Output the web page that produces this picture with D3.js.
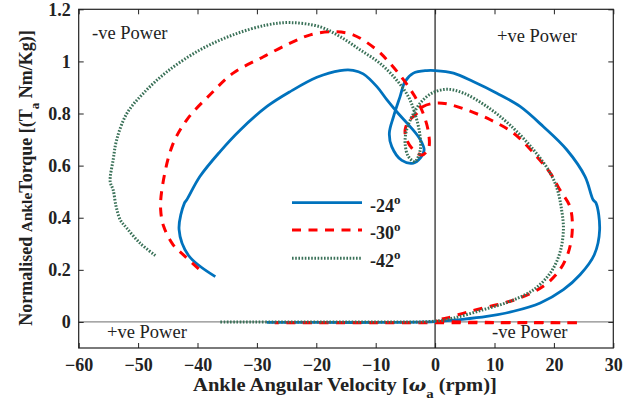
<!DOCTYPE html>
<html>
<head>
<meta charset="utf-8">
<script src="https://cdn.jsdelivr.net/npm/d3@7"></script>
<style>
  body { margin: 0; background: #fff; }
  text { font-family: "Liberation Serif", "Times New Roman", serif; }
</style>
</head>
<body>
<div id="chart"></div>
<script>

// angular velocity (rpm) and normalised torque
var vel24 = [-37.0, -41.5, -43.1, -42.2, -41.8, -39.6, -36.2, -32.8, -28.3, -24.4, -19.9, -16.0, -13.8, -12.1, -9.8, -8.1, -6.2, -4.2, -2.5, -1.85, -2.5, -3.65, -5.6, -7.3, -7.7, -7.0, -5.9, -5.05, -3.65, -1.4, 0, 3.1, 6.4, 10.4, 14.3, 18.2, 22.2, 25.25, 26.6, 27.1, 27.7, 26.8, 24.4, 21.6, 17.7, 13.2, 8.7, 4.2, 0, -10, -20, -28.3];
var tq24 = [0.174, 0.255, 0.354, 0.456, 0.469, 0.558, 0.654, 0.737, 0.827, 0.884, 0.939, 0.965, 0.966, 0.952, 0.903, 0.852, 0.80, 0.75, 0.70, 0.66, 0.629, 0.61, 0.62, 0.673, 0.725, 0.788, 0.865, 0.923, 0.955, 0.965, 0.965, 0.955, 0.923, 0.878, 0.827, 0.75, 0.66, 0.558, 0.469, 0.456, 0.354, 0.258, 0.181, 0.124, 0.073, 0.041, 0.021, 0.009, 0.001, -0.002, -0.002, -0.002];

var vel30 = [-39.8, -42.1, -44.1, -45.7, -46.2, -46.0, -44.3, -41.8, -37.9, -34.0, -28.9, -24.4, -21.0, -17.1, -13.8, -9.8, -7.6, -5.3, -3.4, -2.0, -1.1, -1.1, -2.2, -3.65, -4.8, -5.05, -4.5, -3.1, -2.0, 0, 2.0, 5.3, 9.3, 13.2, 16.6, 19.4, 21.0, 22.7, 23.1, 22.4, 20.8, 18.2, 14.3, 10.4, 5.9, 2.0, 0, 24.4, 10, -10, -27.0];
var tq30 = [0.204, 0.252, 0.296, 0.367, 0.43, 0.507, 0.673, 0.776, 0.872, 0.955, 1.018, 1.07, 1.102, 1.114, 1.102, 1.044, 0.993, 0.929, 0.865, 0.80, 0.725, 0.667, 0.641, 0.66, 0.70, 0.737, 0.769, 0.80, 0.827, 0.84, 0.837, 0.814, 0.776, 0.725, 0.648, 0.571, 0.507, 0.443, 0.354, 0.265, 0.194, 0.137, 0.092, 0.066, 0.041, 0.015, 0.005, -0.003, -0.003, -0.003, -0.003];

var vel42 = [-47.1, -49.7, -51.9, -53.0, -53.7, -54.2, -54.7, -54.2, -53.6, -51.9, -49.1, -45.1, -39.6, -34.0, -28.3, -24.4, -19.4, -16.0, -12.6, -9.3, -6.5, -4.5, -3.4, -2.6, -2.5, -3.4, -4.5, -5.05, -4.8, -3.9, -2.5, -0.55, 2.0, 4.8, 8.7, 12.6, 16.6, 19.4, 20.6, 21.3, 21.6, 21.0, 19.4, 16.6, 12.6, 8.1, 3.1, 0, -15, -36.2];
var tq42 = [0.255, 0.303, 0.36, 0.392, 0.443, 0.507, 0.539, 0.622, 0.70, 0.80, 0.878, 0.961, 1.044, 1.102, 1.14, 1.149, 1.133, 1.095, 1.044, 0.993, 0.929, 0.865, 0.80, 0.725, 0.66, 0.616, 0.635, 0.686, 0.737, 0.788, 0.84, 0.878, 0.893, 0.878, 0.827, 0.756, 0.66, 0.571, 0.507, 0.43, 0.354, 0.265, 0.188, 0.124, 0.079, 0.047, 0.015, 0.003, 0.0, 0.0];

var seriesNames = ["-24", "-30", "-42"];
var xTicks = [-60, -50, -40, -30, -20, -10, 0, 10, 20, 30];
var yTicks = [0, 0.2, 0.4, 0.6, 0.8, 1, 1.2];

var cfg = { w: 637, h: 400, left: 78.7, right: 613.3, top: 9.3, bot: 348 };

var svg = d3.select("#chart").append("svg")
  .attr("width", cfg.w)
  .attr("height", cfg.h);

var x = d3.scaleLinear().domain([-60, 30]).range([cfg.left, cfg.right]);
var y = d3.scaleLinear().domain([-0.1, 1.2]).range([cfg.bot, cfg.top]);

// zero lines
svg.append("line")
  .attr("x1", x(0)).attr("x2", x(0))
  .attr("y1", cfg.top).attr("y2", cfg.bot)
  .style("stroke", "#555").style("stroke-width", 1.6);
svg.append("line")
  .attr("x1", cfg.left).attr("x2", cfg.right)
  .attr("y1", y(0)).attr("y2", y(0))
  .style("stroke", "#8a8a8a").style("stroke-width", 1.2);

// axes, ticks inside
var tickFmt = function(d) { return d3.format("")(d); };
svg.append("g").attr("transform", "translate(0," + cfg.bot + ")")
  .call(d3.axisBottom(x).tickValues(xTicks).tickSizeInner(-5).tickSizeOuter(0).tickPadding(10).tickFormat(tickFmt));
svg.append("g").attr("transform", "translate(0," + cfg.top + ")")
  .call(d3.axisTop(x).tickValues(xTicks).tickSizeInner(-5).tickSizeOuter(0).tickFormat(""));
svg.append("g").attr("transform", "translate(" + cfg.left + ",0)")
  .call(d3.axisLeft(y).tickValues(yTicks).tickSizeInner(-5).tickSizeOuter(0).tickPadding(8).tickFormat(tickFmt));
svg.append("g").attr("transform", "translate(" + cfg.right + ",0)")
  .call(d3.axisRight(y).tickValues(yTicks).tickSizeInner(-5).tickSizeOuter(0).tickFormat(""));

svg.selectAll(".domain").remove();
svg.selectAll(".tick line").style("stroke", "#222");
svg.selectAll(".tick text")
  .style("font-family", "'Liberation Serif', serif")
  .style("font-weight", "bold")
  .style("font-size", "18px")
  .style("fill", "#222");

// box
svg.append("rect")
  .attr("x", cfg.left).attr("y", cfg.top)
  .attr("width", cfg.right - cfg.left).attr("height", cfg.bot - cfg.top)
  .style("fill", "none").style("stroke", "#222").style("stroke-width", 1.2);

// curves
var series = [
  { v: vel24, t: tq24, color: "#0072BD", dash: null, width: 2.8 },
  { v: vel30, t: tq30, color: "#FF0000", dash: "9,7.5", width: 3 },
  { v: vel42, t: tq42, color: "#3a7158", dash: "1.6,1.6", width: 3 }
];

var line = d3.line()
  .x(function(d) { return x(d[0]); })
  .y(function(d) { return y(d[1]); })
  .curve(d3.curveCatmullRom.alpha(0.5));

series.forEach(function(s) {
  var pts = s.v.map(function(d, i) { return [d, s.t[i]]; });
  svg.append("path")
    .datum(pts)
    .attr("d", line)
    .style("fill", "none")
    .style("stroke", s.color)
    .style("stroke-width", s.width)
    .style("stroke-dasharray", s.dash);
});

// legend
var legY = [202.7, 230, 258.3];
series.forEach(function(s, i) {
  svg.append("line")
    .attr("x1", 292).attr("x2", 362)
    .attr("y1", legY[i]).attr("y2", legY[i])
    .style("stroke", s.color)
    .style("stroke-width", s.width)
    .style("stroke-dasharray", s.dash);
  var t = svg.append("text")
    .attr("x", 370).attr("y", legY[i] + 9)
    .style("font-weight", "bold").style("font-size", "18px").style("fill", "#222");
  t.append("tspan").text(seriesNames[i]);
  t.append("tspan").attr("dy", -8).style("font-size", "13px").text("o");
});

// power quadrant labels
var quad = [
  { txt: "-ve Power", x: 92, y: 39 },
  { txt: "+ve Power", x: 497, y: 42 },
  { txt: "+ve Power", x: 107, y: 338 },
  { txt: "-ve Power", x: 492, y: 338 }
];
svg.selectAll(".quad").data(quad).enter().append("text")
  .attr("class", "quad")
  .attr("x", function(d) { return d.x; })
  .attr("y", function(d) { return d.y; })
  .style("font-size", "18.5px").style("fill", "#222")
  .text(function(d) { return d.txt; });

// x title, stretched to the width it has in the figure
var xt = svg.append("text")
  .attr("x", 0).attr("y", 0)
  .attr("text-anchor", "middle")
  .style("font-weight", "bold").style("font-size", "18px").style("fill", "#222");
xt.append("tspan").text("Ankle Angular Velocity [");
xt.append("tspan").style("font-style", "italic").style("font-family", "'DejaVu Serif', serif").style("font-size", "16px").text("\u03c9");
xt.append("tspan").attr("dy", 7).style("font-size", "13px").text("a");
xt.append("tspan").attr("dy", -7).text(" (rpm)]");
var xtw = xt.node().getBBox().width;
xt.attr("transform", "translate(345,391) scale(" + (304 / xtw) + ",1)");

// y title
var yt = svg.append("text")
  .attr("transform", "translate(32,178) rotate(-90)")
  .attr("text-anchor", "middle")
  .style("font-weight", "bold").style("font-size", "18px").style("fill", "#222");
yt.append("tspan").text("Normalised ");
yt.append("tspan").style("font-size", "15.5px").text("Ankle");
yt.append("tspan").text("Torque [(T");
yt.append("tspan").attr("dy", 7).style("font-size", "13px").text("a");
yt.append("tspan").attr("dy", -7).text(" Nm/Kg)]");

</script>
</body>
</html>
